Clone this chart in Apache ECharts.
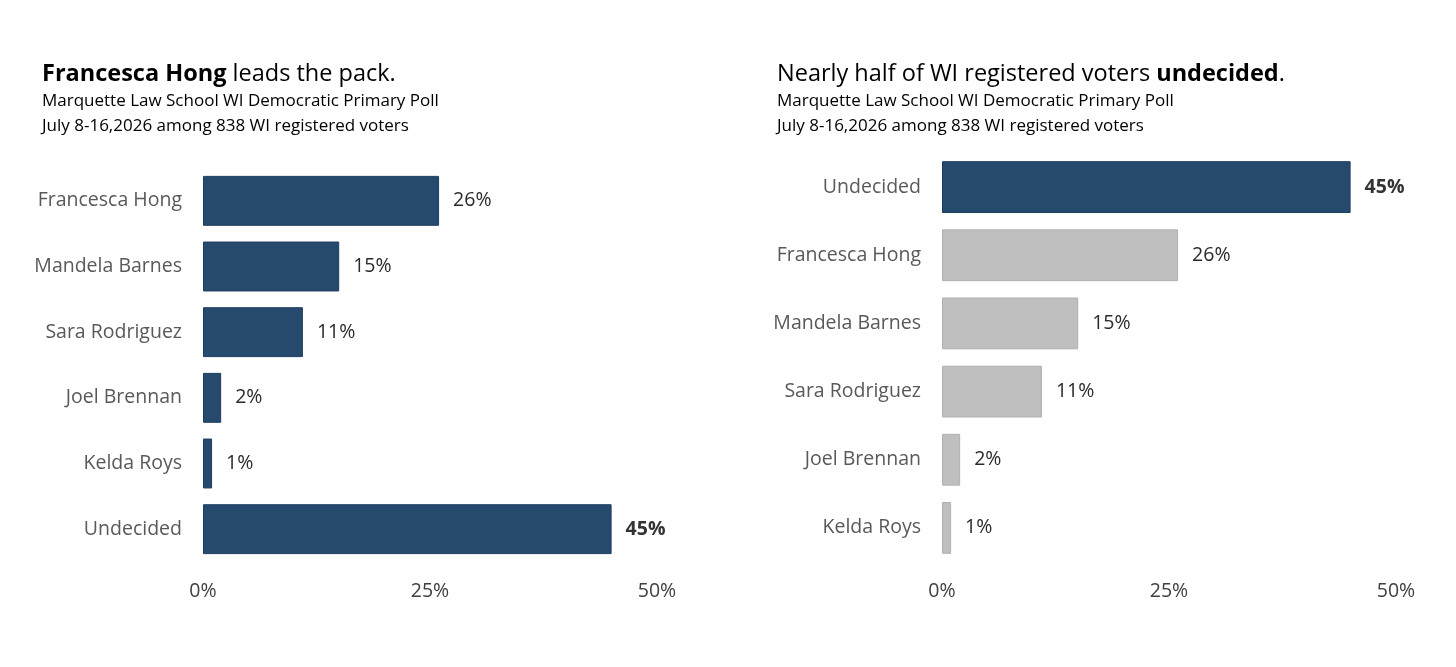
<!DOCTYPE html>
<html>
<head>
<meta charset="utf-8">
<script src="https://cdn.jsdelivr.net/npm/echarts@6/dist/echarts.min.js"></script>
<style>html,body{margin:0;padding:0;background:#fff;}#c{width:1456px;height:667px;}</style>
</head>
<body>
<div id="c"></div>
<script>
const leftCategories = ['Francesca Hong', 'Mandela Barnes', 'Sara Rodriguez', 'Joel Brennan', 'Kelda Roys', 'Undecided'];
const leftValues = [26, 15, 11, 2, 1, 45];
const rightCategories = ['Undecided', 'Francesca Hong', 'Mandela Barnes', 'Sara Rodriguez', 'Joel Brennan', 'Kelda Roys'];
const rightValues = [45, 26, 15, 11, 2, 1];
const tickValues = [0, 25, 50];
const subtitleLine1 = 'Marquette Law School WI Democratic Primary Poll';
const subtitleLine2 = 'July 8-16,2026 among 838 WI registered voters';

const FONT = 'Open Sans';
const DARK = '#264A6E';
const GREY = '#BFBFBF';

const chart = echarts.init(document.getElementById('c'));

function barData(values, highlightFn, colorFn) {
  return values.map((v, i) => ({
    value: v,
    itemStyle: colorFn(i),
    label: highlightFn(i) ? { fontWeight: 'bold', color: '#333333' } : {}
  }));
}

const leftUndecided = leftCategories.indexOf('Undecided');
const rightUndecided = rightCategories.indexOf('Undecided');

function xAxisCfg(gi) {
  return {
    gridIndex: gi, type: 'value', min: 0, max: 50, interval: 25,
    splitLine: { show: false }, axisLine: { show: false }, axisTick: { show: false },
    axisLabel: { formatter: v => v + '%', fontFamily: FONT, fontSize: 19.5, color: '#404040', margin: 19,
      customValues: tickValues }
  };
}
function yAxisCfg(gi, cats) {
  return {
    gridIndex: gi, type: 'category', data: cats, inverse: true,
    axisLine: { show: false }, axisTick: { show: false },
    axisLabel: { fontFamily: FONT, fontSize: 19.5, color: '#595959', margin: 21 }
  };
}
const titleRich = {
  b: { fontFamily: FONT, fontSize: 23.5, fontWeight: 'bold', color: '#000' },
  n: { fontFamily: FONT, fontSize: 23.5, fontWeight: 'normal', color: '#000' }
};
const subStyle = { fontFamily: FONT, fontSize: 17, fontWeight: 'normal', color: '#000', lineHeight: 25 };
const valueLabel = { show: true, position: 'right', distance: 14, formatter: p => p.value + '%', fontFamily: FONT, fontSize: 19.5, color: '#2b2b2b' };

chart.setOption({
  animation: false,
  backgroundColor: '#ffffff',
  title: [
    { left: 42, top: 62, padding: 0, text: '{b|Francesca Hong}{n| leads the pack.}', textStyle: { rich: titleRich } },
    { left: 42, top: 89, padding: 0, text: subtitleLine1 + '\n' + subtitleLine2, textStyle: subStyle },
    { left: 777, top: 62, padding: 0, text: '{n|Nearly half of WI registered voters }{b|undecided}{n|.}', textStyle: { rich: titleRich } },
    { left: 777, top: 89, padding: 0, text: subtitleLine1 + '\n' + subtitleLine2, textStyle: subStyle }
  ],
  grid: [
    { left: 203, top: 168, width: 454, height: 394 },
    { left: 942, top: 153, width: 454, height: 409 }
  ],
  xAxis: [xAxisCfg(0), xAxisCfg(1)],
  yAxis: [yAxisCfg(0, leftCategories), yAxisCfg(1, rightCategories)],
  series: [
    { type: 'bar', xAxisIndex: 0, yAxisIndex: 0, barCategoryGap: '24%',
      data: barData(leftValues, i => i === leftUndecided, () => ({ color: DARK, borderColor: '#1E3D5E', borderWidth: 1 })),
      label: valueLabel },
    { type: 'bar', xAxisIndex: 1, yAxisIndex: 1, barCategoryGap: '24%',
      data: barData(rightValues, i => i === rightUndecided, i => i === rightUndecided ? ({ color: DARK, borderColor: '#1E3D5E', borderWidth: 1 }) : ({ color: GREY, borderColor: '#B0B0B0', borderWidth: 1 })),
      label: valueLabel }
  ]
});
</script>
</body>
</html>
